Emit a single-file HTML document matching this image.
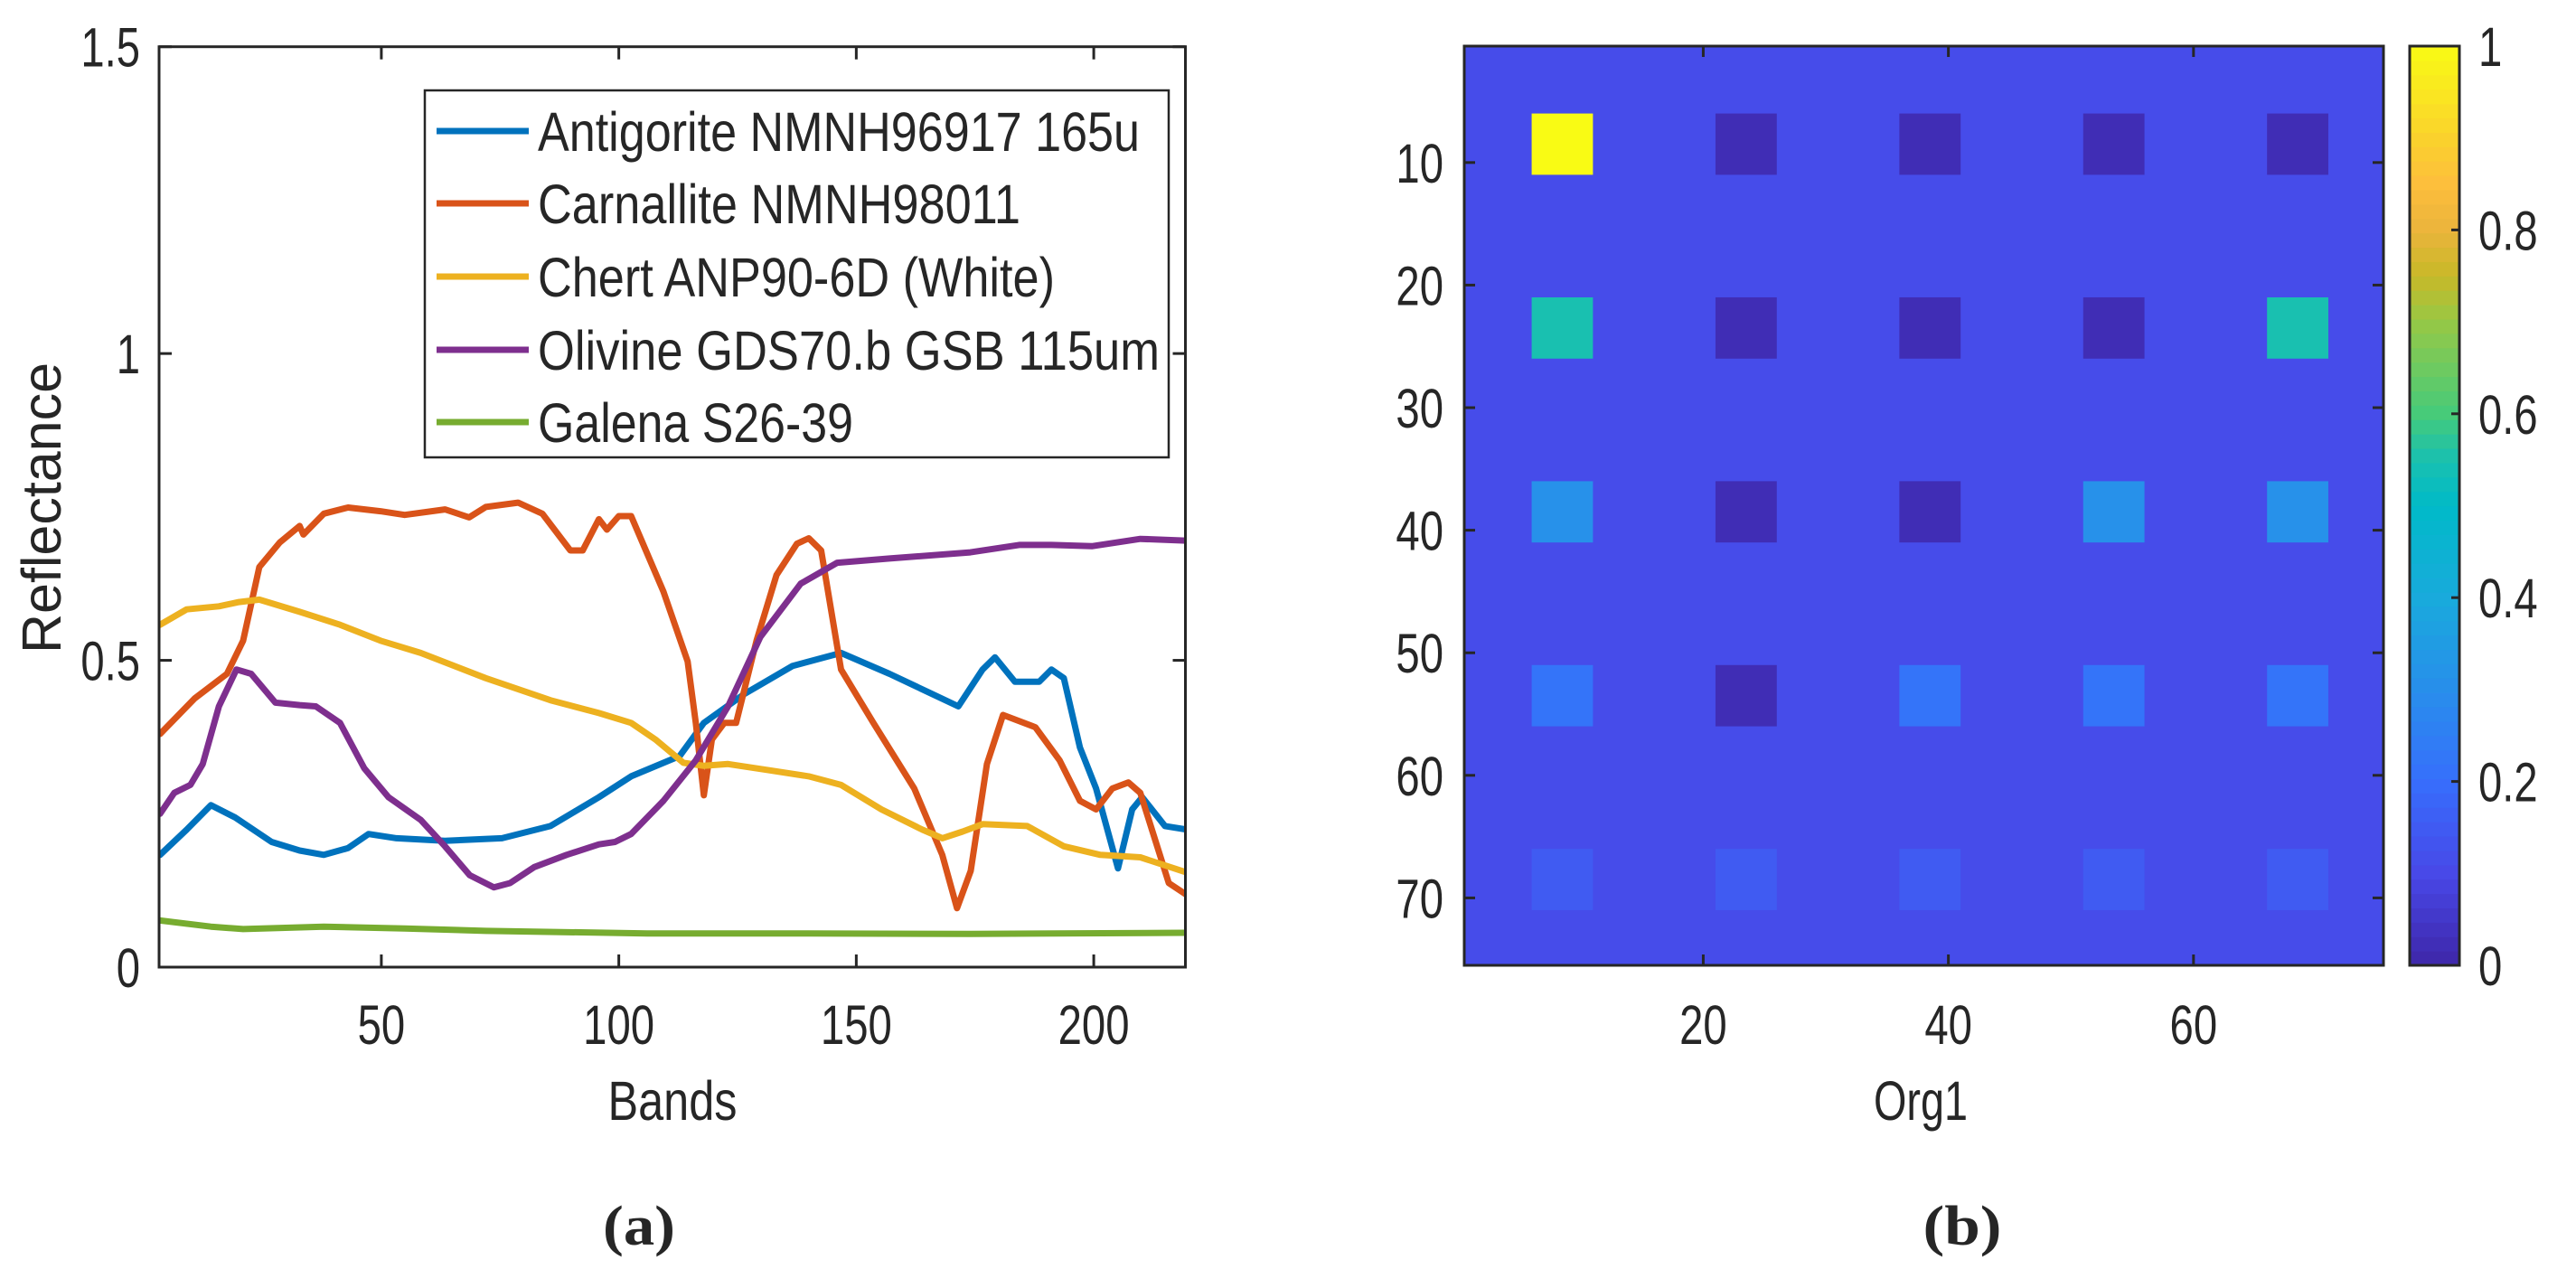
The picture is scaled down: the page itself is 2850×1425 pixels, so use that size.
<!DOCTYPE html>
<html><head><meta charset="utf-8"><style>
html,body{margin:0;padding:0;background:#fff;}
svg{display:block;}
text{font-family:"Liberation Sans",Arial,sans-serif;fill:#262626;}
</style></head>
<body>
<svg id="fig" width="2850" height="1425" viewBox="0 0 2850 1425" xmlns="http://www.w3.org/2000/svg">
<rect width="2850" height="1425" fill="#fff"/>
<g id="pa"></g>
<g id="pb"></g>
</svg>
<script>
// ---------- Panel (a) data ----------
const seriesNames = ["Antigorite NMNH96917 165u","Carnallite NMNH98011","Chert ANP90-6D (White)","Olivine GDS70.b GSB 115um","Galena S26-39"];
const seriesColors = ["#0072BD","#D95319","#EDB120","#7E2F8E","#77AC30"];
const antigoriteX = [3.4,9,14.1,19.2,26.9,32.8,37.9,43,47.3,53.2,63.4,75.4,85.6,95.8,102.6,112.8,117.9,126.4,136.6,146.8,157,171.5,176.6,179.2,183.4,188.5,191.1,193.7,197.1,200.5,205.1,208.1,210.2,215,219.7];
const antigoriteY = [0.183,0.224,0.264,0.244,0.204,0.190,0.183,0.194,0.217,0.210,0.206,0.210,0.230,0.277,0.311,0.344,0.398,0.445,0.491,0.512,0.478,0.425,0.485,0.505,0.465,0.465,0.485,0.471,0.358,0.291,0.161,0.257,0.277,0.230,0.224];
const carnalliteX = [3.4,10.7,17.5,20.9,24.3,28.6,32.8,33.6,37.9,43,49.8,54.9,63.4,68.5,72,78.8,83.9,89.8,92.4,95.8,97.5,100,102.6,109.4,114.5,116.2,117.9,119.6,122.2,124.7,129,133.2,137.5,140,142.6,146.8,153.6,162.2,168.1,171.2,174.1,177.5,180.9,187.7,192.8,197.1,200.5,203.9,207.3,209.8,215.8,219.7];
const carnalliteY = [0.380,0.438,0.478,0.532,0.652,0.692,0.719,0.705,0.739,0.749,0.743,0.737,0.746,0.733,0.750,0.757,0.739,0.679,0.679,0.730,0.713,0.735,0.735,0.612,0.498,0.398,0.280,0.371,0.398,0.398,0.532,0.639,0.690,0.699,0.679,0.485,0.398,0.291,0.183,0.096,0.157,0.331,0.411,0.391,0.337,0.271,0.257,0.291,0.301,0.284,0.137,0.117];
const chertX = [3.4,9,15.8,20,24.3,32.8,41.3,49.8,58.3,72,85.6,95.8,102.6,107.7,113.6,117.9,123,131.5,140,146.8,155.3,163.9,168.1,172.4,176.6,186,193.7,201.4,209.8,219.7];
const chertY = [0.558,0.583,0.588,0.595,0.599,0.579,0.558,0.532,0.512,0.471,0.435,0.414,0.398,0.371,0.333,0.328,0.331,0.321,0.311,0.297,0.257,0.224,0.210,0.221,0.233,0.230,0.197,0.183,0.179,0.154];
const olivineX = [3.4,6.4,9.8,12.4,15.8,19.5,22.6,27.7,32.8,36.2,41.3,46.4,51.5,58.3,63.4,68.6,73.7,77.1,82.2,89,95.8,99.2,102.6,109.4,116.2,123,129.8,138.3,146,157,174,184.3,191.1,199.6,209.8,219.7];
const olivineY = [0.250,0.284,0.297,0.331,0.425,0.485,0.478,0.431,0.427,0.425,0.398,0.324,0.277,0.240,0.197,0.150,0.130,0.137,0.163,0.183,0.200,0.204,0.217,0.271,0.337,0.425,0.538,0.625,0.659,0.666,0.676,0.688,0.688,0.686,0.698,0.695];
const galenaX = [3.4,14.1,20.9,37.9,54.9,72,106,140,174,219.7];
const galenaY = [0.076,0.066,0.062,0.066,0.063,0.059,0.055,0.055,0.054,0.056];
const xTicksA = [50,100,150,200];
const yTicksA = [0,0.5,1,1.5];
const yTickLabelsA = ["0","0.5","1","1.5"];

// ---------- Panel (b) data ----------
const blockStarts = [6,21,36,51,66];
const blockValues = [
  [1.00,0.02,0.02,0.02,0.02],
  [0.55,0.02,0.02,0.02,0.55],
  [0.31,0.02,0.02,0.31,0.31],
  [0.22,0.02,0.22,0.22,0.22],
  [0.15,0.15,0.15,0.15,0.15]
];
const backgroundValue = 0.11;
const imageSize = 75;
const xTicksB = [20,40,60];
const yTicksB = [10,20,30,40,50,60,70];
const cbTicks = [0,0.2,0.4,0.6,0.8,1];
const cbTickLabels = ["0","0.2","0.4","0.6","0.8","1"];

const NS = "http://www.w3.org/2000/svg";
function mk(tag, attrs, parent){
  const e = document.createElementNS(NS, tag);
  for (const k in attrs) e.setAttribute(k, attrs[k]);
  parent.appendChild(e);
  return e;
}
function tw(s){ let w=0; for(const c of s){ w += (c==='.')?13:26.3; } return w; }
const AX = "#262626";

// ---------- Panel (a) ----------
const pa = document.getElementById('pa');
const aL=176, aR=1311.5, aT=51.7, aB=1070;
const xMinA=3.2, xMaxA=219.3, yMinA=0, yMaxA=1.5;
const xA = v => aL + (v - xMinA)/(xMaxA - xMinA)*(aR - aL);
const yA = v => aB - (v - yMinA)/(yMaxA - yMinA)*(aB - aT);

const clipA = mk('clipPath',{id:'clipA'},pa);
mk('rect',{x:aL,y:aT,width:aR-aL,height:aB-aT},clipA);

const allX=[antigoriteX,carnalliteX,chertX,olivineX,galenaX];
const allY=[antigoriteY,carnalliteY,chertY,olivineY,galenaY];
const lineNames=['antigorite-line','carnallite-line','chert-line','olivine-line','galena-line'];
const gl = mk('g',{'clip-path':'url(#clipA)'},pa);


for(let s=4;s>=0;s--){
  const order=[4,0,1,2,3];
}
const drawOrder=[0,1,2,3,4];
drawOrder.forEach(s=>{
  const pts = allX[s].map((x,i)=>xA(x).toFixed(1)+','+yA(allY[s][i]).toFixed(1)).join(' ');
  const p = mk('polyline',{points:pts,fill:'none',stroke:seriesColors[s],'stroke-width':7,'stroke-linejoin':'round','stroke-linecap':'round'},gl);
  
  
});

// axes box
const boxA = mk('rect',{x:aL,y:aT,width:aR-aL,height:aB-aT,fill:'none',stroke:AX,'stroke-width':3},pa);


xTicksA.forEach(t=>{
  const x=xA(t);
  mk('line',{x1:x,y1:aB,x2:x,y2:aB-14,stroke:AX,'stroke-width':3},pa);
  mk('line',{x1:x,y1:aT,x2:x,y2:aT+14,stroke:AX,'stroke-width':3},pa);
  const lbl=mk('text',{x:x,y:1155,'font-size':61,'text-anchor':'middle',textLength:tw(String(t)),lengthAdjust:'spacingAndGlyphs'},pa);
  lbl.textContent=String(t);
  
  
});
yTicksA.forEach((t,i)=>{
  const y=yA(t);
  mk('line',{x1:aL,y1:y,x2:aL+14,y2:y,stroke:AX,'stroke-width':3},pa);
  mk('line',{x1:aR,y1:y,x2:aR-14,y2:y,stroke:AX,'stroke-width':3},pa);
  const lbl=mk('text',{x:155,y:y+22,'font-size':61,'text-anchor':'end',textLength:tw(yTickLabelsA[i]),lengthAdjust:'spacingAndGlyphs'},pa);
  lbl.textContent=yTickLabelsA[i];
  
  
});
const xt=mk('text',{x:744,y:1239,'font-size':61,'text-anchor':'middle',textLength:143,lengthAdjust:'spacingAndGlyphs'},pa);
xt.textContent='Bands';


const yt=mk('text',{x:0,y:0,'font-size':61,'text-anchor':'middle',textLength:322,lengthAdjust:'spacingAndGlyphs',transform:'translate(67,562) rotate(-90)'},pa);
yt.textContent='Reflectance';



// legend
const lg = mk('g',{},pa);


mk('rect',{x:470,y:100,width:823,height:406,fill:'#fff',stroke:AX,'stroke-width':2.5},lg);
const legendY=[145,225,306,387,467];
const legendW=[666,534,572,688,349];
seriesNames.forEach((n,i)=>{
  const e = mk('g',{},lg);
  
  
  mk('line',{x1:483,y1:legendY[i],x2:585,y2:legendY[i],stroke:seriesColors[i],'stroke-width':7},e);
  const t=mk('text',{x:595,y:legendY[i]+22,'font-size':61,textLength:legendW[i],lengthAdjust:'spacingAndGlyphs'},e);
  t.textContent=n;
});
const capA=mk('text',{x:707,y:1377,'font-size':62,'text-anchor':'middle','font-weight':'bold',style:'font-family:"Liberation Serif",serif',textLength:80,lengthAdjust:'spacingAndGlyphs'},pa);
capA.textContent='(a)';



// ---------- Panel (b) ----------
const parulaStops=[[0,62,38,168],[0.1,72,72,232],[0.2,55,110,252],[0.3,40,142,235],[0.4,25,170,220],[0.5,0,186,200],[0.55,25,192,176],[0.6,70,203,122],[0.7,150,200,70],[0.75,200,185,40],[0.8,235,180,60],[0.85,253,190,60],[0.9,250,210,45],[1,249,251,20]];
function parula(v){
  v=Math.max(0,Math.min(1,v));
  for(let i=1;i<parulaStops.length;i++){
    const a=parulaStops[i-1], b=parulaStops[i];
    if(v<=b[0]){
      const f=(v-a[0])/(b[0]-a[0]);
      return 'rgb('+[1,2,3].map(k=>Math.round(a[k]+(b[k]-a[k])*f)).join(',')+')';
    }
  }
  return 'rgb(249,251,20)';
}
const pb=document.getElementById('pb');
const bL=1620, bR=2637, bT=51, bB=1068;
const cell=(bR-bL)/imageSize;
const xB = v => bL + (v-0.5)*cell;
const yB = v => bT + (v-0.5)*cell;
const bg=mk('rect',{x:bL,y:bT,width:bR-bL,height:bB-bT,fill:parula(backgroundValue)},pb);


blockValues.forEach((row,r)=>{
  row.forEach((v,c)=>{
    const rc=mk('rect',{x:xB(blockStarts[c]),y:yB(blockStarts[r]),width:5*cell,height:5*cell,fill:parula(v)},pb);
    
    
  });
});
const boxB=mk('rect',{x:bL,y:bT,width:bR-bL,height:bB-bT,fill:'none',stroke:AX,'stroke-width':3},pb);


xTicksB.forEach(t=>{
  const x=xB(t);
  mk('line',{x1:x,y1:bB,x2:x,y2:bB-12,stroke:AX,'stroke-width':3},pb);
  mk('line',{x1:x,y1:bT,x2:x,y2:bT+12,stroke:AX,'stroke-width':3},pb);
  const lbl=mk('text',{x:x,y:1155,'font-size':61,'text-anchor':'middle',textLength:tw(String(t)),lengthAdjust:'spacingAndGlyphs'},pb);
  lbl.textContent=String(t);
  
  
});
yTicksB.forEach(t=>{
  const y=yB(t);
  mk('line',{x1:bL,y1:y,x2:bL+12,y2:y,stroke:AX,'stroke-width':3},pb);
  mk('line',{x1:bR,y1:y,x2:bR-12,y2:y,stroke:AX,'stroke-width':3},pb);
  const lbl=mk('text',{x:1597,y:y+22,'font-size':61,'text-anchor':'end',textLength:tw(String(t)),lengthAdjust:'spacingAndGlyphs'},pb);
  lbl.textContent=String(t);
  
  
});
const xtb=mk('text',{x:2125,y:1239,'font-size':61,'text-anchor':'middle',textLength:104,lengthAdjust:'spacingAndGlyphs'},pb);
xtb.textContent='Org1';



// colorbar
const cbL=2666, cbR=2721, cbT=51, cbB=1068;
const cb=mk('g',{},pb);


const nSteps=64;
for(let i=0;i<nSteps;i++){
  const y0=cbB-(i+1)/nSteps*(cbB-cbT);
  mk('rect',{x:cbL,y:y0,width:cbR-cbL,height:(cbB-cbT)/nSteps+0.6,fill:parula((i+0.5)/nSteps)},cb);
}
mk('rect',{x:cbL,y:cbT,width:cbR-cbL,height:cbB-cbT,fill:'none',stroke:AX,'stroke-width':3},cb);
const yCb = v => cbB - v*(cbB-cbT);
cbTicks.forEach((t,i)=>{
  const y=yCb(t);
  if(t>0 && t<1) mk('line',{x1:cbR,y1:y,x2:cbR-9,y2:y,stroke:AX,'stroke-width':3},cb);
  const lbl=mk('text',{x:2742,y:y+22,'font-size':61,textLength:tw(cbTickLabels[i]),lengthAdjust:'spacingAndGlyphs'},cb);
  lbl.textContent=cbTickLabels[i];
  
  
});
const capB=mk('text',{x:2171,y:1377,'font-size':62,'text-anchor':'middle','font-weight':'bold',style:'font-family:"Liberation Serif",serif',textLength:87,lengthAdjust:'spacingAndGlyphs'},pb);
capB.textContent='(b)';


</script>
</body></html>
